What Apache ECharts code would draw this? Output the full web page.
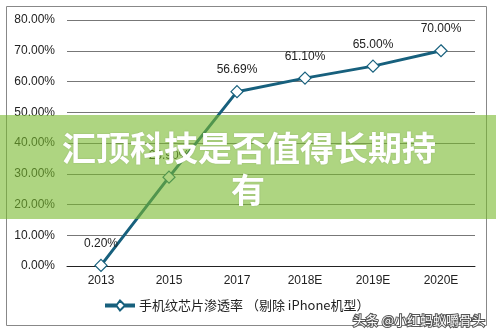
<!DOCTYPE html>
<html>
<head>
<meta charset="utf-8">
<script src="https://cdn.jsdelivr.net/npm/echarts@6/dist/echarts.min.js"></script>
<style>
  html, body { margin: 0; padding: 0; background: #fff; }
  #chart { width: 496px; height: 336px; }
</style>
</head>
<body>
<div id="chart"></div>
<script>
// 手机指纹芯片渗透率
var years = ['2013', '2015', '2017', '2018E', '2019E', '2020E'];
var rates = [0.20, 28.90, 56.69, 61.10, 65.00, 70.00];
var seriesName = '手机纹芯片渗透率 （剔除 iPhone机型）';

var mchart = echarts.init(document.getElementById('chart'));

var option = {
  animation: false,
  textStyle: { fontFamily: 'Liberation Sans' },
  grid: { left: 67, right: 21, top: 20, bottom: 70 },
  legend: {
    bottom: 19,
    left: 100,
    itemWidth: 28,
    itemHeight: 10,
    itemGap: 4,
    textStyle: { fontFamily: 'Noto Sans CJK SC', fontSize: 13, color: '#222' },
    data: [{ name: seriesName, icon: 'path://M0,4 L11,4 L14,0 L18,4 L28,4 L28,6 L18,6 L14,10 L11,6 L0,6 Z' }]
  },
  xAxis: {
    type: 'category',
    data: years,
    axisLine: { lineStyle: { color: '#222', width: 1 } },
    axisTick: { show: false },
    axisLabel: { color: '#222', fontSize: 12, margin: 9 }
  },
  yAxis: {
    type: 'value',
    min: 0,
    max: 80,
    interval: 10,
    axisLine: { show: false },
    axisTick: { show: false },
    axisLabel: {
      color: '#222', fontSize: 12, margin: 12,
      formatter: function (v) { return v.toFixed(2) + '%'; }
    },
    splitLine: { lineStyle: { color: '#777', width: 1 } }
  },
  series: [{
    name: seriesName,
    type: 'line',
    data: rates,
    symbol: 'diamond',
    symbolSize: 12,
    itemStyle: { color: '#fff', borderColor: '#17607d', borderWidth: 1.2 },
    lineStyle: { color: '#17607d', width: 3 },
    label: {
      show: true,
      position: 'top',
      distance: 9,
      color: '#222',
      fontSize: 12,
      formatter: function (p) { return p.value.toFixed(2) + '%'; }
    }
  }],
  graphic: [
    {
      type: 'rect', z: 50,
      shape: { x: 6.5, y: 6.5, width: 480, height: 319 },
      style: { fill: 'none', stroke: '#888', lineWidth: 1 }
    },
    {
      type: 'rect', z: 100,
      shape: { x: 0, y: 115, width: 496, height: 104 },
      style: { fill: 'rgba(120,185,45,0.6)' }
    },
    {
      type: 'text', z: 101,
      style: {
        x: 249, y: 148,
        text: '汇顶科技是否值得长期持',
        fill: '#fff',
        font: 'bold 34px "Noto Sans CJK SC"',
        textAlign: 'center', textVerticalAlign: 'middle',
        textShadowColor: 'rgba(0,0,0,0.15)', textShadowBlur: 2
      }
    },
    {
      type: 'text', z: 101,
      style: {
        x: 248, y: 190,
        text: '有',
        fill: '#fff',
        font: 'bold 34px "Noto Sans CJK SC"',
        textAlign: 'center', textVerticalAlign: 'middle',
        textShadowColor: 'rgba(0,0,0,0.15)', textShadowBlur: 2
      }
    },
    {
      type: 'text', z: 101,
      style: {
        x: 485, y: 320,
        text: '头条 @小红蚂蚁嚼骨头',
        fill: '#fff',
        stroke: '#555',
        lineWidth: 2,
        font: '13px "Noto Sans CJK SC"',
        textAlign: 'right', textVerticalAlign: 'middle'
      }
    }
  ]
};

mchart.setOption(option);
</script>
</body>
</html>
